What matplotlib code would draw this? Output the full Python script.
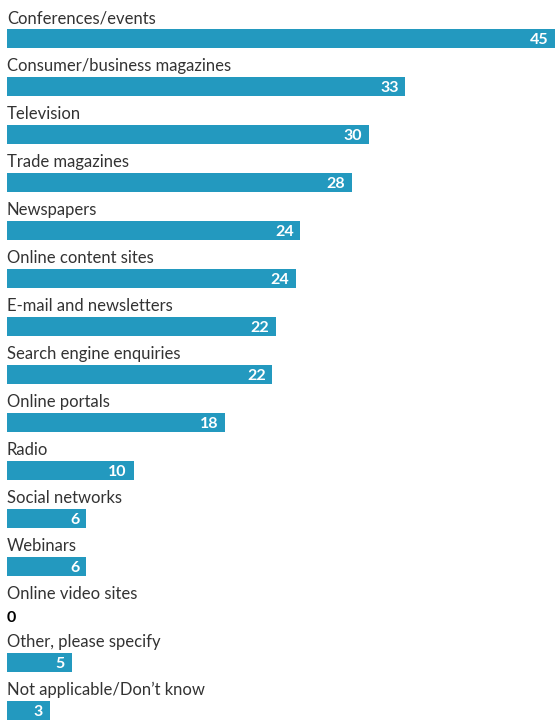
import numpy as np
import matplotlib
matplotlib.use("Agg")
import matplotlib.pyplot as plt

# --- data ---
categories = [
    "Conferences/events",
    "Consumer/business magazines",
    "Television",
    "Trade magazines",
    "Newspapers",
    "Online content sites",
    "E-mail and newsletters",
    "Search engine enquiries",
    "Online portals",
    "Radio",
    "Social networks",
    "Webinars",
    "Online video sites",
    "Other, please specify",
    "Not applicable/Don\u2019t know",
]
# bar lengths (%), and the rounded labels printed on them
shares = [45.0, 32.7, 29.7, 28.3, 24.1, 23.7, 22.1, 21.8, 17.9, 10.4, 6.5, 6.5, 0.0, 5.3, 3.5]
labels = [45, 33, 30, 28, 24, 24, 22, 22, 18, 10, 6, 6, 0, 5, 3]

bar_color = "#2399bf"
text_color = "#333333"
font = ["Lato", "DejaVu Sans"]

# --- plotting ---
fig = plt.figure(figsize=(5.55, 7.21), dpi=100)
ax = fig.add_axes([7 / 555, 0, 548 / 555, 1])

rows = np.arange(len(categories))
bar_off = 38.5 / 48
txt_off = 18 / 48
ax.barh(rows + bar_off, shares, height=19 / 48, color=bar_color, align="center")

for i, (cat, v, lab) in enumerate(zip(categories, shares, labels)):
    ax.text(0, i + txt_off, cat, ha="left", va="center", fontsize=12,
            color=text_color, family=font)
    if v > 0:
        ax.text(v - 0.55, i + bar_off + 1.5 / 48, str(lab), ha="right", va="center",
                fontsize=11.5, fontweight="bold", color="white", family=font)
    else:
        ax.text(0, i + bar_off + 4 / 48, str(lab), ha="left", va="center",
                fontsize=11.5, fontweight="bold", color="black", family=font)

ax.set_xlim(0, 45)
ax.set_ylim(721 / 48, 0)
ax.axis("off")

plt.savefig("out.png", dpi=100)
